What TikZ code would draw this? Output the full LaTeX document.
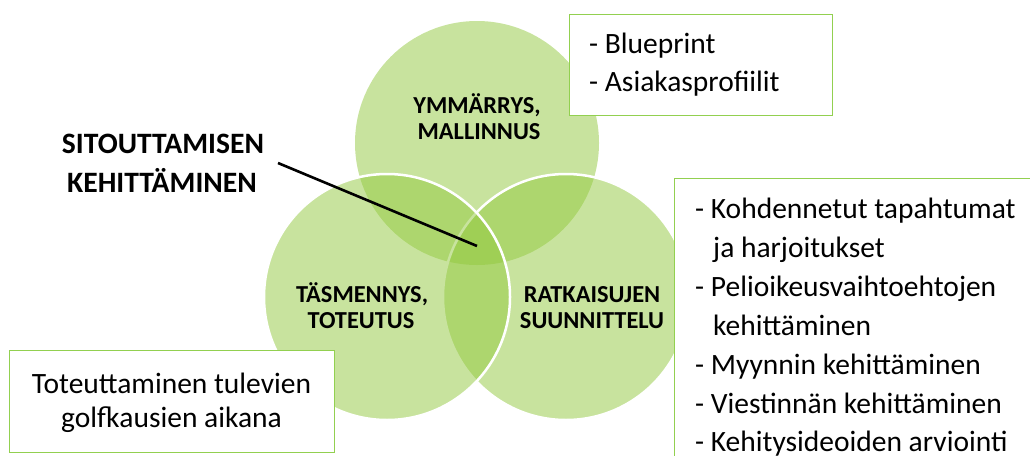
\documentclass[tikz,border=0pt]{standalone}
\usepackage{fontspec}
\setmainfont{Carlito}
\definecolor{vgreen}{RGB}{146,200,62}
\definecolor{boxgreen}{RGB}{146,208,80}
\begin{document}
\begin{tikzpicture}[x=1pt,y=-1pt,
 venn/.style={circle, minimum size=#1, inner sep=0pt, fill=vgreen, fill opacity=0.5},
 vennedge/.style={draw=white, line width=2.5pt},
 lbl/.style={font=\bfseries\fontsize{24.4}{26}\selectfont, anchor=base, inner sep=0pt},
 biglbl/.style={font=\bfseries\fontsize{29.6}{38}\selectfont, anchor=base, inner sep=0pt},
 txt/.style={font=\fontsize{29.5}{38}\selectfont, anchor=base west, inner sep=0pt},
 ctxt/.style={font=\fontsize{29.5}{38}\selectfont, anchor=base, inner sep=0pt},
 gbox/.style={draw=boxgreen, line width=1.3pt, fill=white, anchor=north west, inner sep=0pt},
 pointer/.style={line width=2.6pt, black}
]
\useasboundingbox (0,0) rectangle (1030,455);
\clip (0,0) rectangle (1030,455);
% circles
\node[venn=244pt] (ctop) at (477,143) {};
\node[venn=246pt, vennedge] (cright) at (566,297) {};
\node[venn=246pt, vennedge] (cleft) at (387,297) {};
% circle labels
\node[lbl] (ymm) at (477,113) {YMMÄRRYS,};
\node[lbl] (mal) at (479,139) {MALLINNUS};
\node[lbl] (tas) at (362,302) {TÄSMENNYS,};
\node[lbl] (tot) at (361,328) {TOTEUTUS};
\node[lbl] (rat) at (592,302) {RATKAISUJEN};
\node[lbl] (suu) at (592,328) {SUUNNITTELU};
% pointer
\node[biglbl] (sit) at (163,153) {SITOUTTAMISEN};
\node[biglbl] (keh) at (162,192) {KEHITTÄMINEN};
\coordinate (pstart) at (278,163);
\coordinate (ptip) at (477,246);
\draw[pointer] (pstart) -- (ptip);
% boxes
\node[gbox, minimum width=263pt, minimum height=101pt] (btop) at (569,14) {};
\node[txt] (t1) at (589,53) {- Blueprint};
\node[txt] (t2) at (589,91) {- Asiakasprofiilit};
\node[gbox, minimum width=370pt, minimum height=300pt] (bright) at (674,178) {};
\node[txt] (r1) at (695,218) {- Kohdennetut tapahtumat};
\node[txt] (r2) at (713,257) {ja harjoitukset};
\node[txt] (r3) at (695,296) {- Pelioikeusvaihtoehtojen};
\node[txt] (r4) at (713,335) {kehittäminen};
\node[txt] (r5) at (695,374) {- Myynnin kehittäminen};
\node[txt] (r6) at (695,413) {- Viestinnän kehittäminen};
\node[txt] (r7) at (695,451) {- Kehitysideoiden arviointi};
\node[gbox, minimum width=325pt, minimum height=102pt] (bleft) at (9,350) {};
\node[ctxt] (l1) at (171.5,393) {Toteuttaminen tulevien};
\node[ctxt] (l2) at (171.5,427) {golfkausien aikana};
\end{tikzpicture}
\end{document}
